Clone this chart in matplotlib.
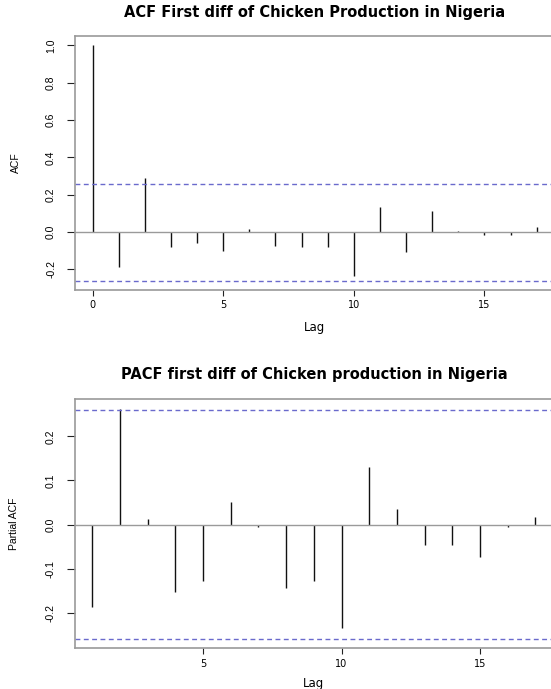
import matplotlib
matplotlib.use('Agg')
import matplotlib.pyplot as plt
import numpy as np

plt.rcParams['font.family'] = ['Liberation Sans', 'DejaVu Sans']
plt.rcParams['axes.unicode_minus'] = False

# values
acf_lags = list(range(0, 18))
acf_vals = [1.0, -0.188, 0.29, -0.082, -0.059, -0.102, 0.016, -0.072, -0.082,
            -0.082, -0.233, 0.132, -0.109, 0.111, 0.005, -0.013, -0.013, 0.025]
pacf_lags = list(range(1, 18))
pacf_vals = [-0.187, 0.263, 0.013, -0.154, -0.128, 0.051, -0.005, -0.144, -0.127,
             -0.235, 0.131, 0.036, -0.046, -0.047, -0.073, -0.005, 0.017]
n_obs = 57
conf = 1.96 / np.sqrt(n_obs)

acf_title = "ACF First diff of Chicken Production in Nigeria"
pacf_title = "PACF first diff of Chicken production in Nigeria"
acf_yticks = [-0.2, 0.0, 0.2, 0.4, 0.6, 0.8, 1.0]
pacf_yticks = [-0.2, -0.1, 0.0, 0.1, 0.2]
xticks = [0, 5, 10, 15]

W, H = 551, 689
frame_col = '#9a9a9a'
conf_col = '#6a6acc'
wide = 'DejaVu Sans'


def r_range(lo, hi):
    ext = (hi - lo) * 0.04
    return lo - ext, hi + ext


def spike_panel(rect, lags, vals, title, ylabel, yticks, title_y, xlab_y, ylab_x):
    left, top, right, bottom = rect
    ax = fig.add_axes([left / W, 1 - bottom / H, (right - left) / W, (bottom - top) / H])
    ax.vlines(lags, 0, vals, colors='#111111', lw=1.0)
    ax.axhline(0, color=frame_col, lw=1.0)
    for c in (conf, -conf):
        ax.axhline(c, color=conf_col, lw=1.0, linestyle=(0, (3.5, 2.5)), snap=True)
    x0, x1 = r_range(min(lags), max(lags))
    ax.set_xlim(x0, x1)
    ax.set_ylim(*r_range(min(min(vals), -conf), max(max(vals), conf)))
    ax.set_xticks([t for t in xticks if x0 <= t <= x1])
    for lab in ax.get_xticklabels():
        lab.set_family(wide)
    ax.set_yticks(yticks)
    ax.set_yticklabels(['%.1f' % v for v in yticks], rotation=90, va='center')
    ax.tick_params(axis='y', length=5.5, width=0.8, pad=8, labelsize=7.5, color='#222222')
    ax.tick_params(axis='x', length=4, width=0.8, pad=3.5, labelsize=7, color='#222222')
    for s in ax.spines.values():
        s.set_color(frame_col)
        s.set_linewidth(1.2)
    fig.text(ylab_x / W, 1 - (top + bottom) / 2 / H, ylabel, rotation=90,
             ha='center', va='center', fontsize=7.5)
    cx = (left + right) / 2 / W
    fig.text(cx, 1 - title_y / H, title, ha='center', va='center',
             fontsize=10.5, fontweight='bold', family=wide)
    fig.text(cx, 1 - xlab_y / H, 'Lag', ha='center', va='center', fontsize=8.5, family=wide)
    return ax


fig = plt.figure(figsize=(W / 100, H / 100), dpi=100)
spike_panel((74.8, 36, 554.4, 290), acf_lags, acf_vals, acf_title, 'ACF',
            acf_yticks, 12.6, 328, 16)
spike_panel((74.5, 399.3, 553.2, 648.3), pacf_lags, pacf_vals, pacf_title, 'Partial ACF',
            pacf_yticks, 375, 683, 14)

fig.savefig('out.png', dpi=100)
